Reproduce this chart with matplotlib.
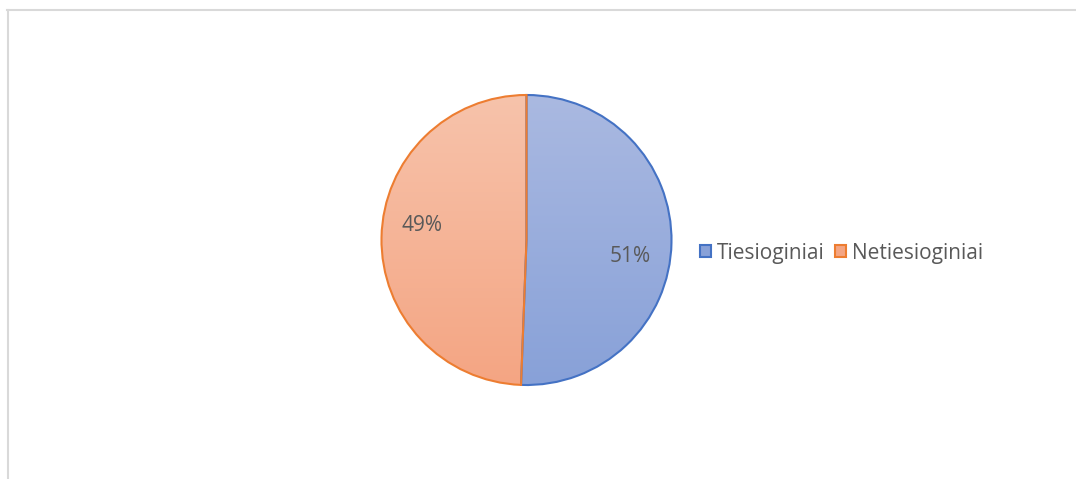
import numpy as np
import matplotlib
matplotlib.use("Agg")
import matplotlib.pyplot as plt
from matplotlib.patches import Patch
from matplotlib.lines import Line2D
from matplotlib.colors import LinearSegmentedColormap

categories = ["Tiesioginiai", "Netiesioginiai"]
values = [50.6, 49.4]
labels = ["51%", "49%"]
edge_colors = ["#4472C4", "#ED7D31"]
grad_top = ["#AAB9E1", "#F7C3AB"]
grad_bottom = ["#88A1D8", "#F4A583"]

plt.rcParams['font.family'] = ['Open Sans', 'DejaVu Sans']

W, H = 1076, 479
fig = plt.figure(figsize=(W / 100, H / 100), dpi=100)

cx, cy, r = 526.5, 240.0, 145
ax = fig.add_axes([(cx - r) / W, (H - cy - r) / H, 2 * r / W, 2 * r / H])
ax.axis('off')

wedges, _ = ax.pie(values, startangle=90, counterclock=False, radius=1,
                   colors=grad_top,
                   wedgeprops=dict(edgecolor='none', linewidth=0))

for w, top, bot in zip(wedges, grad_top, grad_bottom):
    cmap = LinearSegmentedColormap.from_list("g", [bot, top])
    grad = np.linspace(0, 1, 256).reshape(-1, 1)
    im = ax.imshow(grad, cmap=cmap, extent=[-1, 1, -1, 1], origin='lower',
                   aspect='auto', zorder=2)
    im.set_clip_path(w)
    w.set_facecolor('none')

for w, ec in zip(wedges, edge_colors):
    w.set_edgecolor(ec)
    w.set_linewidth(1.5)
    w.set_zorder(3)
    w.set_clip_on(False)
wedges[1].set_zorder(3.5)

ax.set_xlim(-1, 1)
ax.set_ylim(-1, 1)
ax.set_aspect('auto')

label_pos = [(0.717, -0.117), (-0.72, 0.10)]
for lab, (x, y) in zip(labels, label_pos):
    ax.text(x, y, lab, ha='center', va='center', fontsize=15,
            color='#595959', zorder=4)

handles = [Patch(facecolor=grad_bottom[i], edgecolor=edge_colors[i], linewidth=1.5,
                 label=categories[i]) for i in range(2)]
fig.legend(handles=handles, loc='center left',
           bbox_to_anchor=(700 / W, 1 - 253 / H), ncol=2, frameon=False,
           fontsize=15, handlelength=0.55, handleheight=0.55, handletextpad=0.25,
           columnspacing=0.5, labelcolor='#595959', borderaxespad=0, borderpad=0)

fig.add_artist(Line2D([7 / W, 1], [1 - 10 / H, 1 - 10 / H], color='#D9D9D9', lw=1.5))
fig.add_artist(Line2D([8 / W, 8 / W], [0, 1 - 10 / H], color='#D9D9D9', lw=1.5))

fig.savefig("out.png", dpi=100)
